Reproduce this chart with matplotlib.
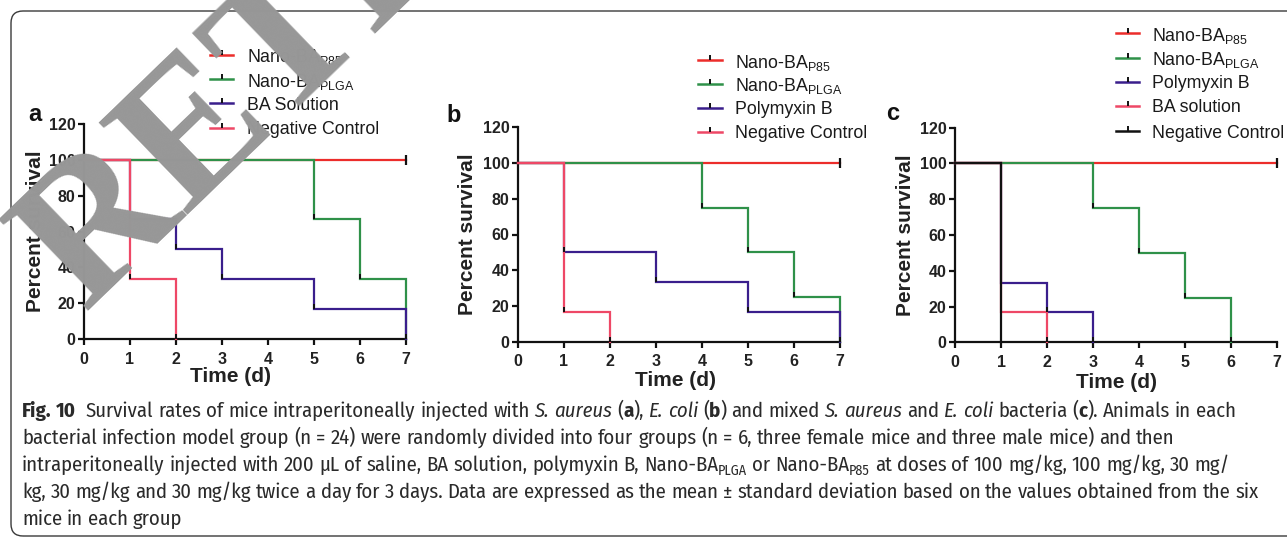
import re
import matplotlib
matplotlib.use("Agg")
import matplotlib.pyplot as plt
from matplotlib.patches import FancyBboxPatch
from matplotlib.path import Path
from matplotlib.markers import MarkerStyle
from matplotlib.transforms import IdentityTransform
from matplotlib import font_manager
from matplotlib.ft2font import FT2Font

plt.rcParams['font.family'] = ['Liberation Sans', 'DejaVu Sans']
plt.rcParams['mathtext.fontset'] = 'custom'
plt.rcParams['mathtext.rm'] = 'Liberation Sans'
plt.rcParams['mathtext.it'] = 'Liberation Sans:italic'
plt.rcParams['mathtext.bf'] = 'Liberation Sans:bold'

W, H = 1287, 539

# ---------------- data ----------------
C_RED = '#ec2d2b'
C_GREEN = '#2f9149'
C_PURPLE = '#3a1e8c'
C_PINK = '#ee4866'
C_BLACK = '#111111'

x_ticks = [0, 1, 2, 3, 4, 5, 6, 7]
y_ticks = [0, 20, 40, 60, 80, 100, 120]

# panel a (S. aureus)
a_labels = ["Nano-BA$_{\\mathregular{P85}}$", "Nano-BA$_{\\mathregular{PLGA}}$",
            "BA Solution", "Negative Control"]
a_colors = [C_RED, C_GREEN, C_PURPLE, C_PINK]
a_times = [[0, 7], [0, 5, 6, 7], [0, 1, 2, 3, 5, 7], [0, 1, 2]]
a_surv = [[100, 100], [100, 66.7, 33.3, 0], [100, 66.7, 50, 33.3, 16.7, 0], [100, 33.3, 0]]

# panel b (E. coli)
b_labels = ["Nano-BA$_{\\mathregular{P85}}$", "Nano-BA$_{\\mathregular{PLGA}}$",
            "Polymyxin B", "Negative Control"]
b_colors = [C_RED, C_GREEN, C_PURPLE, C_PINK]
b_times = [[0, 7], [0, 4, 5, 6, 7], [0, 1, 3, 5, 7], [0, 1, 2]]
b_surv = [[100, 100], [100, 75, 50, 25, 0], [100, 50, 33.3, 16.7, 0], [100, 16.7, 0]]

# panel c (mixed)
c_labels = ["Nano-BA$_{\\mathregular{P85}}$", "Nano-BA$_{\\mathregular{PLGA}}$",
            "Polymyxin B", "BA solution", "Negative Control"]
c_colors = [C_RED, C_GREEN, C_PURPLE, C_PINK, C_BLACK]
c_times = [[0, 7], [0, 3, 4, 5, 6], [0, 1, 2, 3], [0, 1, 2], [0, 1]]
c_surv = [[100, 100], [100, 75, 50, 25, 0], [100, 33.3, 16.7, 0], [100, 16.7, 0], [100, 0]]

# ---------------- layout ----------------
fig = plt.figure(figsize=(W / 100, H / 100), dpi=100)
fig.patch.set_facecolor('white')

up_tick = MarkerStyle(Path([[0, 0], [0, 1]]))


def px_axes(left, right, bottom, top):
    return fig.add_axes([left / W, 1 - bottom / H, (right - left) / W, (bottom - top) / H])


def style_axes(ax, xlab_x, xlab_y, ylab_x):
    ax.set_xlim(0, 7)
    ax.set_ylim(0, 120)
    ax.set_xticks(x_ticks)
    ax.set_yticks(y_ticks)
    for s in ['top', 'right']:
        ax.spines[s].set_visible(False)
    for s in ['left', 'bottom']:
        ax.spines[s].set_linewidth(1.6)
        ax.spines[s].set_color('#111111')
    ax.tick_params(axis='both', direction='out', length=4, width=1.6, color='#111111',
                   labelsize=11.5)
    ax.tick_params(axis='y', pad=2)
    ax.tick_params(axis='x', pad=5)
    for lab in ax.get_xticklabels() + ax.get_yticklabels():
        lab.set_fontweight('bold')
        lab.set_color('#222222')
    ax.set_xlabel('Time (d)', fontsize=15, fontweight='bold', color='#222222')
    ax.set_ylabel('Percent survival', fontsize=15, fontweight='bold', color='#222222')
    ax.xaxis.set_label_coords(xlab_x, xlab_y)
    ax.xaxis.label.set_va('center')
    ax.yaxis.set_label_coords(ylab_x, 0.5)
    ax.yaxis.label.set_va('center')
    ax.patch.set_alpha(0)


def draw_panel(ax, times, survs, colors):
    for t, s, c in zip(times, survs, colors):
        ax.step(t, s, where='post', color=c, lw=1.6, solid_joinstyle='miter', clip_on=False, zorder=3)
    for t, s, c in zip(times, survs, colors):
        dx = [t[i] for i in range(1, len(t)) if s[i] < s[i - 1]]
        dy = [s[i] for i in range(1, len(t)) if s[i] < s[i - 1]]
        ax.plot(dx, dy, ls='none', marker=up_tick, markersize=7, mew=1.4,
                mec='#111111', clip_on=False, zorder=4)
        if len(t) == 2 and s[-1] == s[0]:
            ax.plot([t[-1]], [s[-1]], ls='none', marker='|', markersize=7, mew=1.6,
                    mec='#111111', clip_on=False, zorder=4)


def draw_legend(labels, colors, x1, x2, xt, ys):
    for lab, c, y in zip(labels, colors, ys):
        yy = H - y
        fig.add_artist(plt.Line2D([x1, x2], [yy, yy], color=c, lw=1.8, transform=IdentityTransform()))
        fig.add_artist(plt.Line2D([(x1 + x2) / 2], [yy], ls='none', marker=up_tick, markersize=7,
                                  mew=1.4, mec='#111111', transform=IdentityTransform()))
        fig.text(xt / W, yy / H, lab, fontsize=12.8, color='#1a1a1a', ha='left', va='center_baseline')


ax_a = px_axes(84, 405.7, 339, 124)
draw_panel(ax_a, a_times, a_surv, a_colors)
style_axes(ax_a, (230 - 84) / 321.7, -38 / 215, -0.152)

ax_b = px_axes(517.7, 840, 341.7, 127.3)
draw_panel(ax_b, b_times, b_surv, b_colors)
style_axes(ax_b, 0.49, -38.3 / 214.4, -0.157)

ax_c = px_axes(955, 1277.3, 342.3, 127.7)
draw_panel(ax_c, c_times, c_surv, c_colors)
style_axes(ax_c, 0.5, -39.7 / 214.6, -0.155)

draw_legend(a_labels, a_colors, 210, 233, 247, [54.5, 79, 103, 128])
draw_legend(b_labels, b_colors, 698, 722, 735, [60, 83.5, 108, 132])
draw_legend(c_labels, c_colors, 1116, 1139, 1152, [33, 57.5, 82, 106, 131])

for letter, (lx, ly) in zip(['a', 'b', 'c'], [(28, 121), (446, 122), (886, 120)]):
    fig.text(lx / W, 1 - ly / H, letter, fontsize=17, fontweight='bold', color='#111111',
             ha='left', va='baseline')

# ---------------- border ----------------
border = FancyBboxPatch((11, 3), 1320, 525, boxstyle='round,pad=0,rounding_size=12',
                        transform=IdentityTransform(), fill=False, edgecolor='#3a3a3a', lw=1.0)
fig.add_artist(border)

# ---------------- caption ----------------
cap_family = ['Fira Sans Condensed', 'PT Sans Narrow', 'Roboto Condensed',
              'Liberation Sans Narrow', 'Liberation Sans']
cap_lines = [
    [("Fig. 10", 'b'), ("  Survival rates of mice intraperitoneally injected with ", 'n'),
     ("S. aureus", 'i'), (" (", 'n'), ("a", 'b'), ("), ", 'n'), ("E. coli", 'i'), (" (", 'n'),
     ("b", 'b'), (") and mixed ", 'n'), ("S. aureus", 'i'), (" and ", 'n'), ("E. coli", 'i'),
     (" bacteria (", 'n'), ("c", 'b'), ("). Animals in each", 'n')],
    [("bacterial infection model group (n = 24) were randomly divided into four groups "
      "(n = 6, three female mice and three male mice) and then", 'n')],
    [("intraperitoneally injected with 200 \u00b5L of saline, BA solution, polymyxin B, Nano-BA", 'n'),
     ("PLGA", 's'), (" or Nano-BA", 'n'), ("P85", 's'),
     (" at doses of 100 mg/kg, 100 mg/kg, 30 mg/", 'n')],
    [("kg, 30 mg/kg and 30 mg/kg twice a day for 3 days. Data are expressed as the mean \u00b1 "
      "standard deviation based on the values obtained from the six", 'n')],
    [("mice in each group", 'n')],
]
cap_baselines = [417, 444, 471, 498, 525]
renderer = fig.canvas.get_renderer()


def style_kw(st, size):
    kw = dict(family=cap_family, color='#2a2a2a', fontsize=size)
    if st == 'b':
        kw['fontweight'] = 'bold'
    elif st == 'i':
        kw['fontstyle'] = 'italic'
    elif st == 's':
        kw['fontsize'] = size * 0.68
    return kw


def measure(s, kw):
    t = fig.text(0, 0, s, **kw)
    w = t.get_window_extent(renderer).width
    t.remove()
    return w


def advance(s, kw):
    if not s:
        return 0.0
    return measure(s + 'l', kw) - measure('l', kw)


# pick a narrower space character if the caption font has one
space_char = ' '
try:
    fpath = font_manager.findfont(font_manager.FontProperties(family=cap_family[0]),
                                  fallback_to_default=False)
    ftf = FT2Font(fpath)
    kw0 = style_kw('n', 12)
    normal_sp = measure("a a", kw0) - measure("aa", kw0)
    best = None
    for code in (0x2009, 0x2006, 0x2005):
        if ftf.get_char_index(code):
            wsp = measure("a" + chr(code) + "a", kw0) - measure("aa", kw0)
            score = abs(wsp - 0.62 * normal_sp)
            if best is None or score < best[0]:
                best = (score, chr(code))
    if best is not None:
        space_char = best[1]
except Exception:
    space_char = ' '


def draw_caption_line(runs, x0, yb, size, draw=True):
    x = x0
    for text, st in runs:
        kw = style_kw(st, size)
        dy = -4 if st == 's' else 0
        if draw:
            for m in re.finditer(r'[^ ]+', text):
                prefix = text[:m.start()].replace(' ', space_char)
                xw = x + advance(prefix, kw)
                fig.text(xw / W, (H - yb + dy) / H, m.group(0), ha='left', va='baseline', **kw)
        x += advance(text.replace(' ', space_char), kw)
    return x


base = 12.0
end = draw_caption_line(cap_lines[3], 22, cap_baselines[3], base, draw=False)
cap_size = base * (1267 - 22) / (end - 22)
for runs, yb in zip(cap_lines, cap_baselines):
    draw_caption_line(runs, 22, yb, cap_size)

# ---------------- watermark ----------------
fig.text(84 / W, 1 - 312 / H, 'RETRACTED', fontsize=140, fontweight='bold',
         family=['Noto Serif Condensed', 'Liberation Serif'], color='#979797', rotation=44,
         rotation_mode='anchor', ha='left', va='baseline', zorder=20)

fig.savefig('out.png', dpi=100, facecolor='white')
